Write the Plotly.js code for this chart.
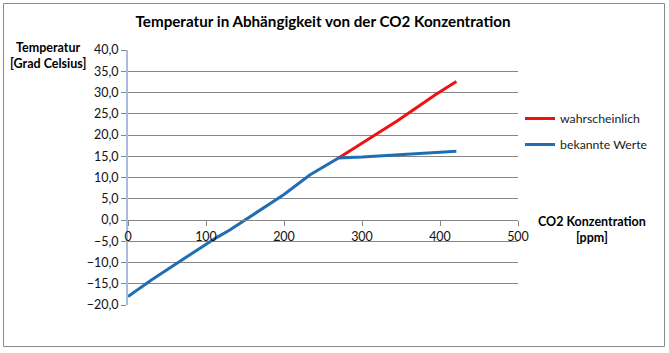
<!DOCTYPE html>
<html>
<head>
<meta charset="utf-8">
<script src="https://cdn.plot.ly/plotly-3.0.1.min.js"></script>
<style>html,body{margin:0;padding:0;background:#fff;}#chart{width:669px;height:353px;}</style>
</head>
<body>
<div id="chart"></div>
<script>
// CO2 concentration [ppm] and temperature [°C]
var knownCO2 = [0, 30, 75, 113, 131, 155, 200, 233, 270, 300, 349, 400, 421];
var knownTemp = [-18.0, -14.1, -8.7, -4.2, -2.3, 0.6, 6.0, 10.6, 14.6, 14.8, 15.4, 15.9, 16.2];
var likelyCO2 = [270, 300, 345, 395, 421];
var likelyTemp = [14.6, 18.1, 23.3, 29.6, 32.6];
var seriesNames = ["wahrscheinlich", "bekannte Werte"];
var yTickVals = [-20, -15, -10, -5, 0, 5, 10, 15, 20, 25, 30, 35, 40];
var xTickVals = [0, 100, 200, 300, 400, 500];
var titleText = "Temperatur in Abhängigkeit von der CO2 Konzentration";
var yTitle = "Temperatur<br>[Grad Celsius]";
var xTitle = "CO2 Konzentration<br>[ppm]";

var FONT = "Lato, 'Open Sans', sans-serif";
var L = 128, R = 518, T = 50, B = 305, W = 669, H = 353;
function px(x) { return (x - L) / (R - L); }
function py(y) { return (B - y) / (B - T); }

var traces = [
  {x: likelyCO2, y: likelyTemp, name: seriesNames[0], mode: "lines", legendgroup: "a",
   line: {color: "#f01010", width: 3}},
  {x: knownCO2, y: knownTemp, name: seriesNames[1], mode: "lines", legendgroup: "b",
   line: {color: "#1f6eb4", width: 3}}
];

var TF = {family: FONT, size: 12.5, color: "#111"};
var layout = {
  width: W, height: H,
  margin: {l: L, r: W - R, t: T, b: H - B, pad: 0},
  paper_bgcolor: "#fff", plot_bgcolor: "#fff",
  separators: ", ",
  font: TF,
  title: {text: titleText, font: {family: FONT, size: 15.2, color: "#000", weight: "bold"},
          x: 0.5, xref: "paper", xanchor: "center", y: 1 - 22 / H, yanchor: "middle"},
  xaxis: {range: [0, 500], tickvals: xTickVals, ticks: "outside", ticklen: 5, tickcolor: "#868686",
          showline: true, linecolor: "#868686", linewidth: 1, showgrid: false, zeroline: false,
          anchor: "free", position: 1/3, fixedrange: true,
          tickfont: TF},
  yaxis: {range: [-20, 40], tickvals: yTickVals, tickformat: ".1f", ticksuffix: "\u2002", ticks: "outside", ticklen: 5,
          tickcolor: "#868686", showline: true, linecolor: "#a9bcdf", linewidth: 2,
          showgrid: true, gridcolor: "#868686", gridwidth: 1, zeroline: false, fixedrange: true,
          tickfont: TF},
  showlegend: true,
  legend: {x: px(520), xanchor: "left", y: py(104), yanchor: "top", tracegroupgap: 7,
           font: {family: FONT, size: 12.3, color: "#222"}, bgcolor: "rgba(0,0,0,0)",
           itemwidth: 30},
  annotations: [
    {text: yTitle, xref: "paper", yref: "paper", x: px(48), y: py(55), xanchor: "center", yanchor: "middle",
     showarrow: false, align: "center", font: {family: FONT, size: 12.5, color: "#000", weight: "bold"}},
    {text: xTitle, xref: "paper", yref: "paper", x: px(592), y: py(230), xanchor: "center", yanchor: "middle",
     showarrow: false, align: "center", font: {family: FONT, size: 12.5, color: "#000", weight: "bold"}}
  ],
  shapes: [
    {type: "rect", xref: "paper", yref: "paper", x0: px(3.5), x1: px(664.5), y0: py(346.5), y1: py(3.5),
     line: {color: "#8a8a8a", width: 1}, fillcolor: "rgba(0,0,0,0)", layer: "below"}
  ]
};

Plotly.newPlot("chart", traces, layout, {displayModeBar: false, staticPlot: true});
</script>
</body>
</html>
